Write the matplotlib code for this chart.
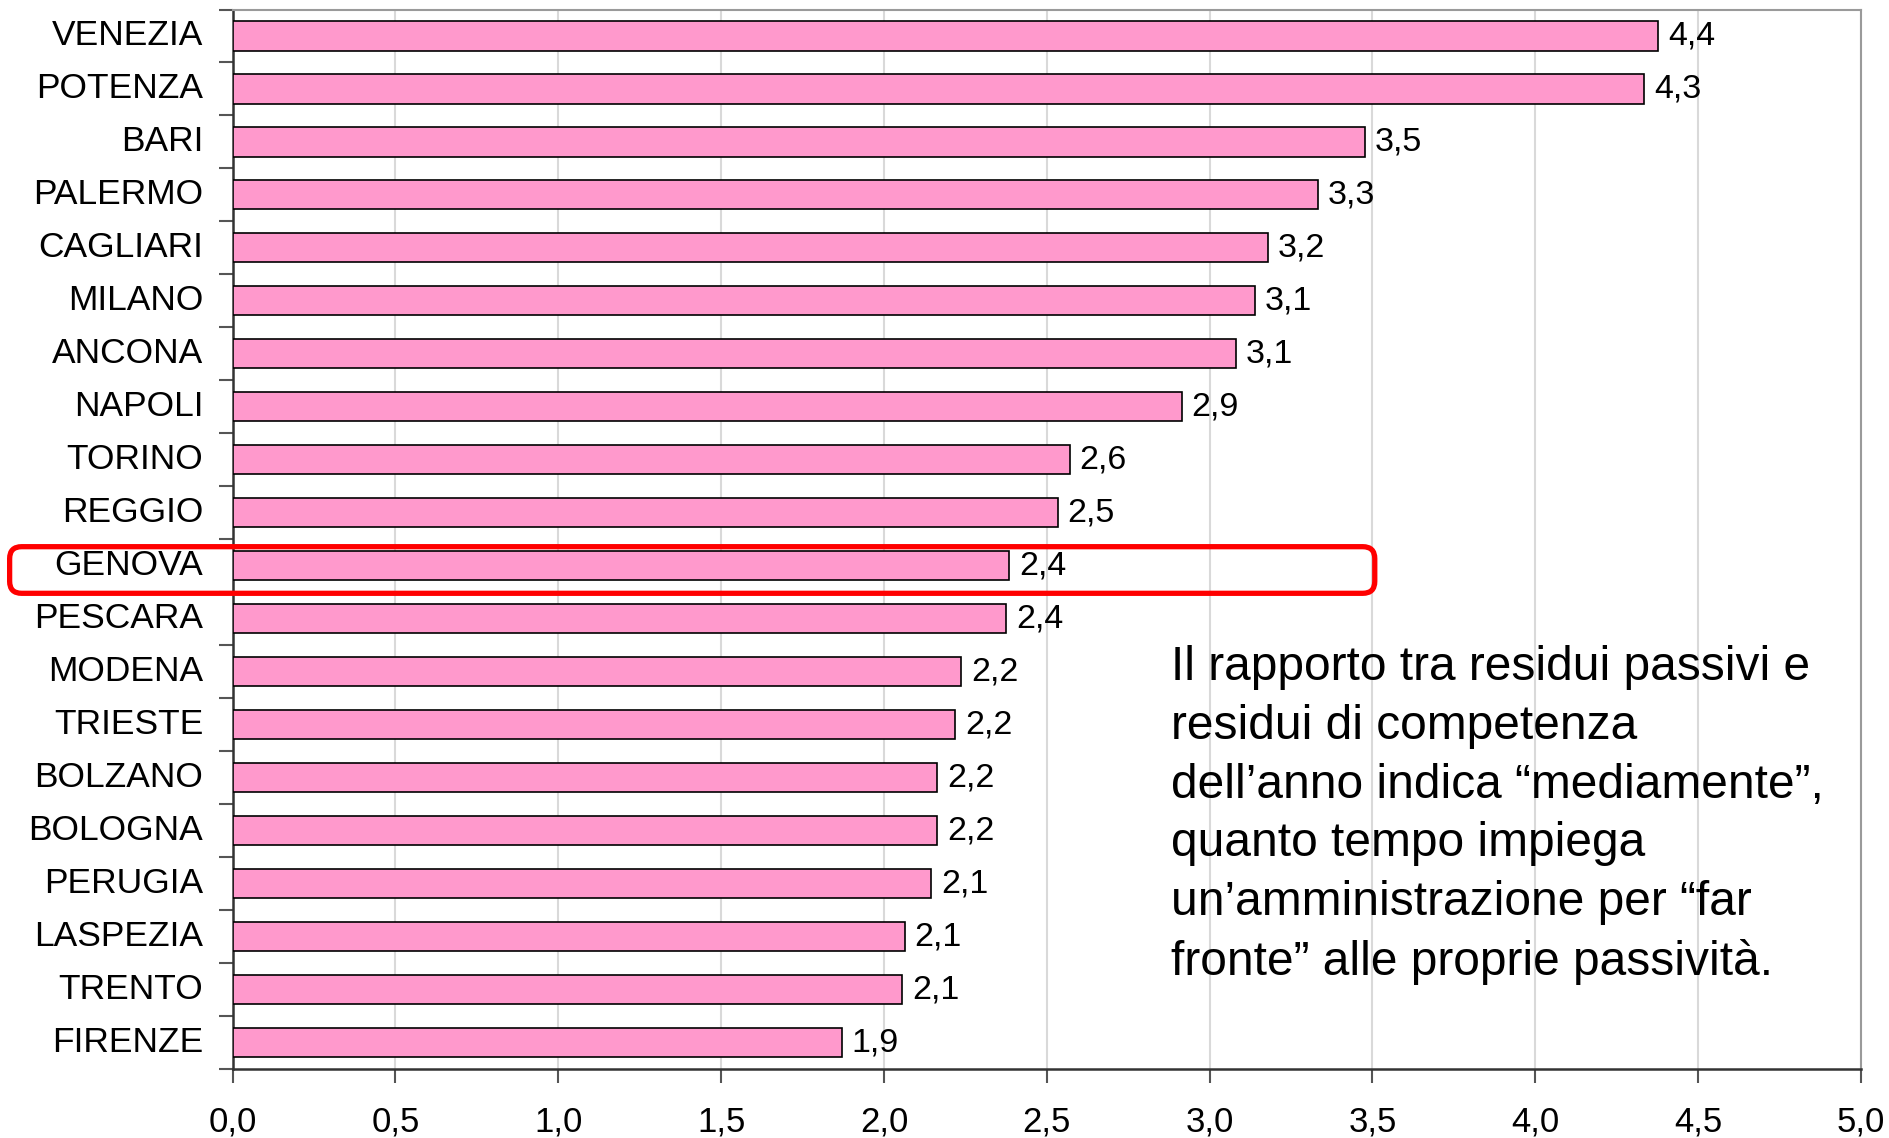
import matplotlib
matplotlib.use("Agg")
import matplotlib.pyplot as plt
from matplotlib.patches import FancyBboxPatch
from matplotlib.transforms import IdentityTransform
from matplotlib.ticker import MultipleLocator, FuncFormatter, FixedLocator

cities = ["VENEZIA", "POTENZA", "BARI", "PALERMO", "CAGLIARI", "MILANO", "ANCONA",
          "NAPOLI", "TORINO", "REGGIO", "GENOVA", "PESCARA", "MODENA", "TRIESTE",
          "BOLZANO", "BOLOGNA", "PERUGIA", "LASPEZIA", "TRENTO", "FIRENZE"]
values = [4.378, 4.334, 3.476, 3.332, 3.18, 3.14, 3.08, 2.914, 2.57, 2.533,
          2.384, 2.376, 2.237, 2.219, 2.163, 2.163, 2.145, 2.064, 2.056, 1.871]
value_labels = ["4,4", "4,3", "3,5", "3,3", "3,2", "3,1", "3,1", "2,9", "2,6", "2,5",
                "2,4", "2,4", "2,2", "2,2", "2,2", "2,2", "2,1", "2,1", "2,1", "1,9"]
highlight = "GENOVA"
note = ("Il rapporto tra residui passivi e\n"
        "residui di competenza\n"
        "dell\u2019anno indica \u201cmediamente\u201d,\n"
        "quanto tempo impiega\n"
        "un\u2019amministrazione per \u201cfar\n"
        "fronte\u201d alle proprie passivit\u00e0.")

plt.rcParams['font.family'] = ['Liberation Sans', 'DejaVu Sans']

fig = plt.figure(figsize=(18.89, 11.38), dpi=100)
ax = fig.add_axes([0.1231, 0.0606, 0.9852 - 0.1231, 0.99165 - 0.0606])

ypos = list(range(len(cities)))
ax.barh(ypos, values, height=0.55, color="#FF99CC", edgecolor="black",
        linewidth=1.2, zorder=3)

for y, v, lab in zip(ypos, values, value_labels):
    ax.text(v + 0.03, y, lab, va="center", ha="left", fontsize=24.5, color="black", zorder=4)

ax.set_xlim(0, 5)
ax.set_ylim(len(cities) - 0.5, -0.5)
ax.xaxis.set_major_locator(MultipleLocator(0.5))
ax.xaxis.set_major_formatter(FuncFormatter(lambda x, p: f"{x:.1f}".replace(".", ",")))

ax.set_yticks(ypos)
ax.set_yticklabels(cities, va="center")
ax.yaxis.set_minor_locator(FixedLocator([i + 0.5 for i in range(-1, len(cities))]))
ax.tick_params(axis="y", which="major", length=0, pad=21, labelsize=25.5)
ax.tick_params(axis="y", which="minor", length=10, width=1.5, color="#555555", direction="out")
ax.tick_params(axis="x", which="major", length=10, width=1.5, color="#555555",
               direction="out", pad=16, labelsize=25)

ax.grid(axis="x", color="#d9d9d9", linewidth=1.5, zorder=0)
ax.set_axisbelow(True)
for s in ["left", "bottom"]:
    ax.spines[s].set_color("#333333")
    ax.spines[s].set_linewidth(1.8)
for s in ["top", "right"]:
    ax.spines[s].set_color("#9a9a9a")
    ax.spines[s].set_linewidth(1.5)

ax.text(0.576, 0.400, note, transform=ax.transAxes, fontsize=34.5, ha="left", va="top",
        linespacing=1.39, color="black")

# red rounded highlight box around the GENOVA row
fig.canvas.draw()
hi = cities.index(highlight)
x0, y0 = ax.transData.transform((0, hi + 0.52))
x1, y1 = ax.transData.transform((3.507, hi - 0.36))
left_px = fig.dpi * fig.get_size_inches()[0] * 0.0051
box = FancyBboxPatch((left_px, y0), x1 - left_px, y1 - y0,
                     boxstyle="round,pad=0,rounding_size=12",
                     transform=IdentityTransform(), fill=False,
                     edgecolor="#FF0000", linewidth=3.8, clip_on=False, zorder=5)
fig.patches.append(box)

fig.savefig("out.png", dpi=100)
